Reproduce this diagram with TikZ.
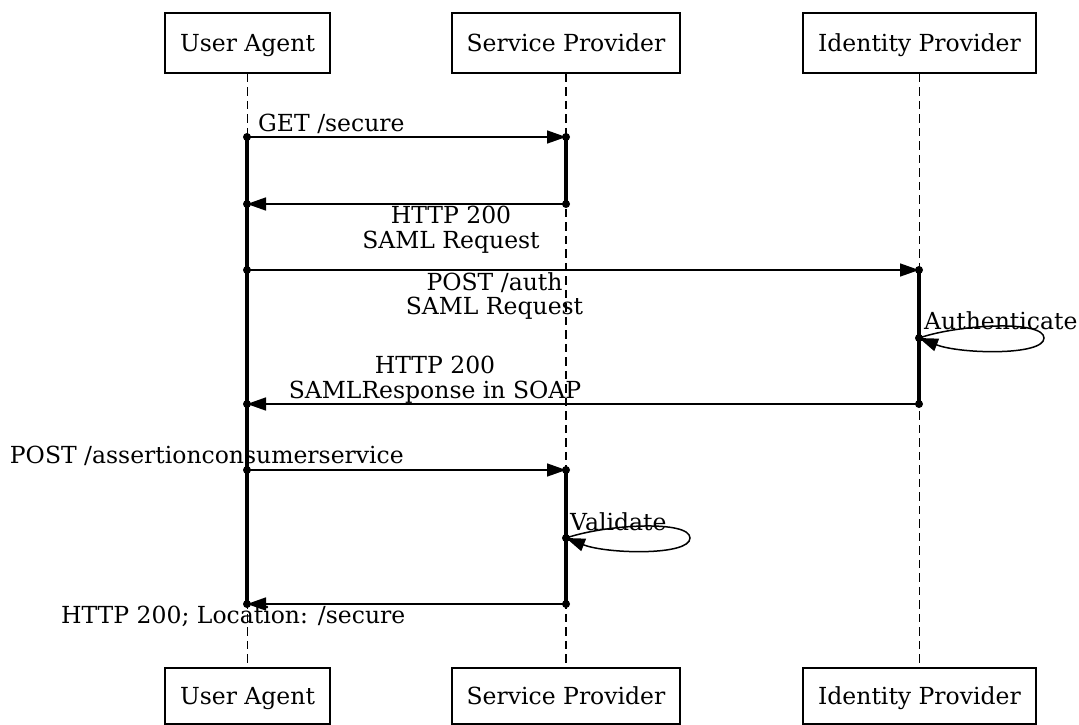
\documentclass[tikz,border=0pt]{standalone}
\usepackage{fontspec}
\setmainfont{DejaVu Serif}
\usetikzlibrary{arrows.meta}
\begin{document}
\begin{tikzpicture}[x=1pt,y=-1pt,
  font=\fontsize{23.5}{25}\selectfont,
  actor/.style={draw,line width=1.5pt,minimum height=60pt,inner sep=0pt,text height=17pt,text depth=0pt},
  lifeline/.style={line width=1.5pt,dash pattern=on 8.5pt off 5pt},
  activation/.style={line width=3.2pt},
  msg/.style={line width=1.5pt,-{Triangle[length=19pt,width=13pt]}},
  lbl/.style={inner sep=0pt}]
\useasboundingbox (0,0) rectangle (1079,724);
% actors
\node[actor,minimum width=165pt] (uaT) at (247.5,43) {User Agent};
\node[actor,minimum width=228pt] (spT) at (566,43) {Service Provider};
\node[actor,minimum width=233pt] (idT) at (919.5,43) {Identity Provider};
\node[actor,minimum width=165pt,minimum height=56pt] (uaB) at (247.5,696) {User Agent};
\node[actor,minimum width=228pt,minimum height=56pt] (spB) at (566,696) {Service Provider};
\node[actor,minimum width=233pt,minimum height=56pt] (idB) at (919.5,696) {Identity Provider};
% lifelines
\draw[lifeline] (uaT.south) -- (uaB.north);
\draw[lifeline] (spT.south) -- (spB.north);
\draw[lifeline] (idT.south) -- (idB.north);
% coordinates
\coordinate (ua1) at (247,137); \coordinate (sp1) at (566,137);
\coordinate (ua2) at (247,204); \coordinate (sp2) at (566,204);
\coordinate (ua3) at (247,270); \coordinate (id3) at (919,270);
\coordinate (id4) at (919,338); \coordinate (id4r) at (1044,338);
\coordinate (ua5) at (247,404); \coordinate (id5) at (919,404);
\coordinate (ua6) at (247,470); \coordinate (sp6) at (566,470);
\coordinate (sp7) at (566,538); \coordinate (sp7r) at (690,538);
\coordinate (ua8) at (247,604); \coordinate (sp8) at (566,604);
% activations
\draw[activation] (ua1) -- (ua8);
\draw[activation] (sp1) -- (sp2);
\draw[activation] (id3) -- (id5);
\draw[activation] (sp6) -- (sp8);
% messages
\draw[msg] (ua1) -- (sp1);
\draw[msg] (sp2) -- (ua2);
\draw[msg] (ua3) -- (id3);
\draw[msg] (id4) .. controls +(41,-14) and +(0,-18) .. (id4r) .. controls +(0,18) and +(41,16) .. (id4);
\draw[msg] (id5) -- (ua5);
\draw[msg] (ua6) -- (sp6);
\draw[msg] (sp7) .. controls +(41,-14) and +(0,-18) .. (sp7r) .. controls +(0,18) and +(41,16) .. (sp7);
\draw[msg] (sp8) -- (ua8);
% dots
\foreach \p in {ua1,sp1,ua2,sp2,ua3,id3,id4,ua5,id5,ua6,sp6,sp7,ua8,sp8}
  \fill (\p) circle (4pt);
% labels
\node[lbl,anchor=base west] (l1) at (258,131) {GET /secure};
\node[lbl,anchor=base] (l2a) at (451,223) {HTTP 200};
\node[lbl,anchor=base] (l2b) at (451,248) {SAML Request};
\node[lbl,anchor=base] (l3a) at (494.5,290) {POST /auth};
\node[lbl,anchor=base] (l3b) at (494.5,314) {SAML Request};
\node[lbl,anchor=base west] (l4) at (924,329) {Authenticate};
\node[lbl,anchor=base] (l5a) at (435,373) {HTTP 200};
\node[lbl,anchor=base] (l5b) at (435,398) {SAMLResponse in SOAP};
\node[lbl,anchor=base east] (l6) at (404,463) {POST /assertionconsumerservice};
\node[lbl,anchor=base west] (l7) at (570,530) {Validate};
\node[lbl,anchor=base east] (l8) at (405.5,623) {HTTP 200; Location: /secure};
\end{tikzpicture}
\end{document}
